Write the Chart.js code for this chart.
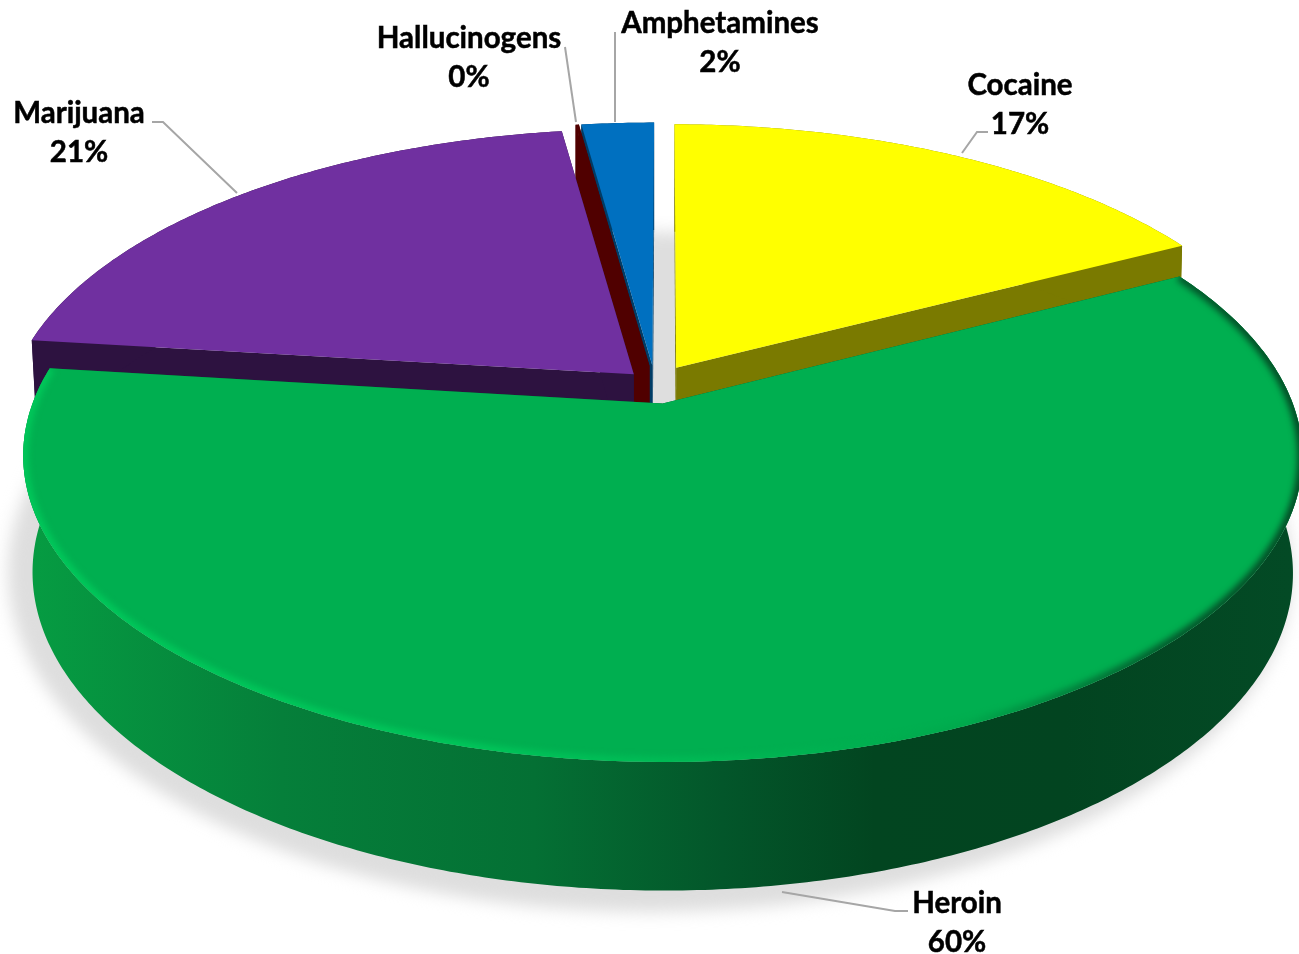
<!DOCTYPE html>
<html>
<head>
<meta charset="utf-8">
<title>Drug use</title>
<script src="https://cdn.jsdelivr.net/npm/chart.js@4"></script>
<style>
body { margin: 0; background: #fff; }
#wrap { width: 1299px; height: 954px; }
</style>
</head>
<body>
<div id="wrap"><canvas id="pieChart"></canvas></div>
<script>
// Values, clockwise from the top of the pie
const labels = ['Cocaine', 'Heroin', 'Marijuana', 'Hallucinogens', 'Amphetamines'];
const values = [17.3, 59.6, 20.8, 0.1, 2.2];
const topColors = ['#ffff00', '#00af50', '#7030a0', '#500000', '#0070c0'];
const sideColors = ['#7a7a00', '#03562a', '#2d1240', '#500000', '#003c66'];
const explode = [24.5, 25.2, 17.8, 24, 24];

// Where each label sits and the path of its leader line
const labelCenters = [[1020, 85], [957, 903], [79, 113], [469, 38], [720, 23]];
const leaders = [
    [[962, 153], [977, 132], [988, 132]],
    [[782, 892], [895, 911], [908, 911]],
    [[237, 193], [163, 122], [152, 122]],
    [[565, 47], [576, 122]],
    [[615, 32], [615, 122]]
];

const RX = 623;          // disc size on screen
const RY = 290;
const PERSP = 0.17;      // front of the disc is nearer than the back
const DEPTH = 118;       // height of the wall

function project(cx, cy, u, v, lower) {
    const s = 1 / (1 - PERSP * v);
    let x = cx + RX * u * s;
    let y = cy + RY * v * s;
    if (lower) {
        x = cx + (x - cx) * (1 - 0.012 * (v + 1));
        y += DEPTH + 10 * v;
    }
    return [x, y];
}

function sliceGeometry(arc) {
    const mid = (arc.startAngle + arc.endAngle) / 2;
    const e = arc.options.offset / arc.outerRadius;
    const ox = Math.cos(mid) * e;
    const oy = Math.sin(mid) * e;
    const rim = [];
    const n = Math.max(2, Math.ceil((arc.endAngle - arc.startAngle) / 0.01));
    for (let i = 0; i <= n; i++) {
        const a = arc.startAngle + (arc.endAngle - arc.startAngle) * i / n;
        rim.push([ox + Math.cos(a), oy + Math.sin(a)]);
    }
    return { ox, oy, rim, mid };
}

function tracePoly(ctx, pts) {
    ctx.beginPath();
    pts.forEach((p, i) => i ? ctx.lineTo(p[0], p[1]) : ctx.moveTo(p[0], p[1]));
    ctx.closePath();
}

function sideGradient(ctx) {
    const g = ctx.createLinearGradient(30, 0, 1290, 0);
    g.addColorStop(0, '#069c42');
    g.addColorStop(0.2, '#057f3a');
    g.addColorStop(0.4, '#047034');
    g.addColorStop(0.55, '#03562a');
    g.addColorStop(0.67, '#024520');
    g.addColorStop(0.82, '#024420');
    g.addColorStop(1, '#034a25');
    return g;
}

function rimGradient(ctx) {
    const g = ctx.createLinearGradient(20, 0, 1300, 0);
    g.addColorStop(0, '#00c85a');
    g.addColorStop(0.35, '#00c65a');
    g.addColorStop(0.55, '#00b854');
    g.addColorStop(0.74, '#00a84c');
    g.addColorStop(0.9, '#03582c');
    g.addColorStop(1, '#034a25');
    return g;
}

// Tilted pie: angles and radius come from Chart.js arc elements
const tiltedPie = {
    id: 'tiltedPie',
    beforeDatasetDraw(chart, args) {
        const ctx = chart.ctx;
        const arcs = chart.getDatasetMeta(args.index).data;
        const cx = arcs[0].x;
        const cy = arcs[0].y;

        // soft shadow on the floor
        ctx.save();
        ctx.filter = 'blur(8px)';
        ctx.fillStyle = '#dedede';
        ctx.beginPath();
        ctx.ellipse(650, 572, 642, 340, 0, 0, Math.PI * 2);
        ctx.fill();
        ctx.restore();

        // back slices first
        const order = arcs.map((arc, i) => i).sort((a, b) => {
            const ma = (arcs[a].startAngle + arcs[a].endAngle) / 2;
            const mb = (arcs[b].startAngle + arcs[b].endAngle) / 2;
            return Math.sin(ma) - Math.sin(mb);
        });

        order.forEach(i => {
            const g = sliceGeometry(arcs[i]);
            const up = g.rim.map(p => project(cx, cy, p[0], p[1], false));
            const down = g.rim.map(p => project(cx, cy, p[0], p[1], true));
            const apexUp = project(cx, cy, g.ox, g.oy, false);
            const apexDown = project(cx, cy, g.ox, g.oy, true);
            const last = up.length - 1;
            const isHeroin = labels[i] === 'Heroin';

            ctx.save();
            ctx.lineJoin = 'round';
            // radial walls
            ctx.fillStyle = sideColors[i];
            tracePoly(ctx, [apexUp, up[0], down[0], apexDown]);
            ctx.fill();
            tracePoly(ctx, [apexUp, up[last], down[last], apexDown]);
            ctx.fill();
            // outer wall
            ctx.fillStyle = isHeroin ? sideGradient(ctx) : sideColors[i];
            tracePoly(ctx, up.concat(down.slice().reverse()));
            ctx.fill();
            // top face
            const face = [apexUp].concat(up);
            ctx.fillStyle = topColors[i];
            tracePoly(ctx, face);
            ctx.fill();
            // bevel along the rim of the big slice
            if (isHeroin) {
                tracePoly(ctx, face);
                ctx.clip();
                ctx.filter = 'blur(3px)';
                ctx.strokeStyle = rimGradient(ctx);
                ctx.lineWidth = 10;
                ctx.beginPath();
                up.forEach((p, k) => k ? ctx.lineTo(p[0], p[1]) : ctx.moveTo(p[0], p[1]));
                ctx.stroke();
            }
            ctx.restore();
        });
        return false;
    },
    afterDatasetsDraw(chart) {
        const ctx = chart.ctx;
        const values = chart.data.datasets[0].data;
        ctx.save();
        ctx.strokeStyle = '#a6a6a6';
        ctx.lineWidth = 2;
        leaders.forEach(line => {
            ctx.beginPath();
            line.forEach((p, k) => k ? ctx.lineTo(p[0], p[1]) : ctx.moveTo(p[0], p[1]));
            ctx.stroke();
        });
        ctx.fillStyle = '#000';
        ctx.strokeStyle = '#000';
        ctx.lineWidth = 0.5;
        ctx.font = 'bold 29.5px Lato';
        ctx.textAlign = 'center';
        ctx.textBaseline = 'middle';
        labels.forEach((name, i) => {
            const pos = labelCenters[i];
            ctx.fillText(name, pos[0], pos[1]);
            ctx.strokeText(name, pos[0], pos[1]);
            const pct = Math.round(values[i]) + '%';
            ctx.fillText(pct, pos[0], pos[1] + 39);
            ctx.strokeText(pct, pos[0], pos[1] + 39);
        });
        ctx.restore();
    }
};

new Chart(document.getElementById('pieChart').getContext('2d'), {
    type: 'pie',
    data: {
        labels: labels,
        datasets: [{
            data: values,
            backgroundColor: topColors,
            borderWidth: 0,
            offset: explode
        }]
    },
    options: {
        responsive: true,
        maintainAspectRatio: false,
        animation: false,
        rotation: 0.15,
        layout: { padding: { left: 11, bottom: 186 } },
        plugins: {
            legend: { display: false },
            tooltip: { enabled: false }
        }
    },
    plugins: [tiltedPie]
});
</script>
</body>
</html>
